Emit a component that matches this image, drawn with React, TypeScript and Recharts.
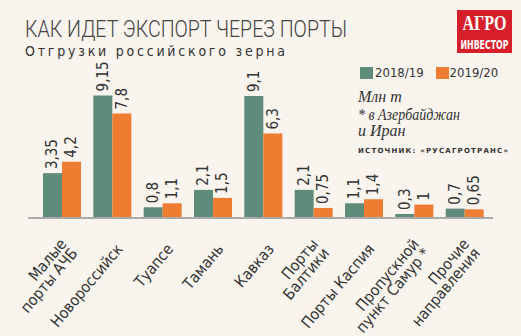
import React from 'react';
import { BarChart, Bar, XAxis, YAxis, LabelList, Legend } from 'recharts';

const categories = [
  'Малые\nпорты АЧБ',
  'Новороссийск',
  'Туапсе',
  'Тамань',
  'Кавказ',
  'Порты\nБалтики',
  'Порты Каспия',
  'Пропускной\nпункт Самур *',
  'Прочие\nнаправления',
];
const season1819 = [3.35, 9.15, 0.8, 2.1, 9.1, 2.1, 1.1, 0.3, 0.7];
const season1920 = [4.2, 7.8, 1.1, 1.5, 6.3, 0.75, 1.4, 1, 0.65];

const GREEN = '#5e8b7a';
const ORANGE = '#ee7d31';
const BG = '#f9f4ee';
const NARROW = '"Liberation Sans Narrow", "DejaVu Sans Condensed", "DejaVu Sans", sans-serif';
const SERIF = '"Liberation Serif", "DejaVu Serif", serif';

const data = categories.map((name, i) => ({
  name,
  s1: season1819[i],
  s2: season1920[i],
}));

const fmt = (v: number) => String(v).replace('.', ',');

const ValueLabel = (props: any) => {
  const { x, y, width, value } = props;
  const cx = x + width / 2;
  const ty = y - 4;
  return (
    <text
      x={cx}
      y={ty}
      transform={`rotate(-90 ${cx} ${ty})`}
      textAnchor="start"
      dominantBaseline="central"
      style={{ fontFamily: NARROW, fontStretch: 'condensed', fontSize: 15 }}
      fill="#333"
    >
      {fmt(value)}
    </text>
  );
};

const CategoryTick = (props: any) => {
  const { x, y, payload } = props;
  const lines: string[] = String(payload.value).split('\n');
  const ax = x + 7;
  const ay = y + 20;
  return (
    <text
      x={ax}
      y={ay}
      transform={`rotate(-50 ${ax} ${ay})`}
      textAnchor="end"
      style={{ fontFamily: NARROW, fontStretch: 'condensed', fontSize: 15.5 }}
      fill="#333"
    >
      {lines.map((l, i) => (
        <tspan key={i} x={ax} dy={i === 0 ? (lines.length > 1 ? '-0.15em' : '0.35em') : '0.92em'}>
          {l}
        </tspan>
      ))}
    </text>
  );
};

const LegendBox = () => (
  <div style={{ display: 'flex', fontFamily: NARROW, fontStretch: 'condensed', fontSize: 13, lineHeight: '16px', color: '#333' }}>
    <span style={{ display: 'inline-block', width: 13, height: 12, background: GREEN, marginTop: 2, marginRight: 2 }} />
    <span style={{ marginRight: 12 }}>2018/19</span>
    <span style={{ display: 'inline-block', width: 13, height: 12, background: ORANGE, marginTop: 2, marginRight: 1 }} />
    <span>2019/20</span>
  </div>
);

export default function App() {
  return (
    <div style={{ position: 'absolute', left: 0, top: 0, width: 521, height: 336, background: BG, overflow: 'hidden' }}>
      <BarChart
        width={521}
        height={336}
        data={data}
        margin={{ top: 84, right: 28, bottom: 42, left: 28 }}
        barGap={0}
        barSize={19}
      >
        <XAxis
          dataKey="name"
          interval={0}
          height={60}
          padding={{ left: 9, right: 3 }}
          axisLine={{ stroke: '#aaa', strokeWidth: 2 }}
          tickLine={false}
          tick={<CategoryTick />}
        />
        <YAxis hide width={0} domain={[0, 10]} />
        <Legend
          content={<LegendBox />}
          wrapperStyle={{ position: 'absolute', left: 360, top: 65, width: 160 }}
        />
        <Bar dataKey="s1" name="2018/19" fill={GREEN} isAnimationActive={false}>
          <LabelList dataKey="s1" content={<ValueLabel />} />
        </Bar>
        <Bar dataKey="s2" name="2019/20" fill={ORANGE} isAnimationActive={false}>
          <LabelList dataKey="s2" content={<ValueLabel />} />
        </Bar>
      </BarChart>

      <svg width={521} height={336} style={{ position: 'absolute', left: 0, top: 0, pointerEvents: 'none' }}>
        <text x={25} y={37} style={{ fontFamily: 'Roboto, "DejaVu Sans Condensed", sans-serif', fontSize: 24, fontWeight: 300 }} fill="#444" textLength={322} lengthAdjust="spacingAndGlyphs">
          КАК ИДЕТ ЭКСПОРТ ЧЕРЕЗ ПОРТЫ
        </text>
        <text x={25} y={56} style={{ fontFamily: NARROW, fontSize: 14 }} fill="#333" textLength={260} lengthAdjust="spacing">
          Отгрузки российского зерна
        </text>

        <rect x={457} y={10} width={55} height={43} fill="#d71f2c" />
        <text x={484.5} y={30} textAnchor="middle" style={{ fontFamily: SERIF, fontWeight: 'bold', fontSize: 21 }} fill="#fff" textLength={44} lengthAdjust="spacingAndGlyphs">
          АГРО
        </text>
        <text x={484.5} y={49} textAnchor="middle" style={{ fontFamily: NARROW, fontStretch: 'condensed', fontWeight: 'bold', fontSize: 13 }} fill="#fff" textLength={48} lengthAdjust="spacingAndGlyphs">
          ИНВЕСТОР
        </text>

        <g style={{ fontFamily: SERIF, fontStyle: 'italic', fontSize: 16 }} fill="#333">
          <text x={358} y={102}>Млн т</text>
          <text x={358} y={120} textLength={102} lengthAdjust="spacingAndGlyphs">* в Азербайджан</text>
          <text x={358} y={136}>и Иран</text>
        </g>
        <text x={358} y={153} style={{ fontFamily: '"DejaVu Sans", sans-serif', fontWeight: 'bold', fontSize: 7 }} fill="#333" textLength={150} lengthAdjust="spacing">
          ИСТОЧНИК: «РУСАГРОТРАНС»
        </text>
      </svg>
    </div>
  );
}
